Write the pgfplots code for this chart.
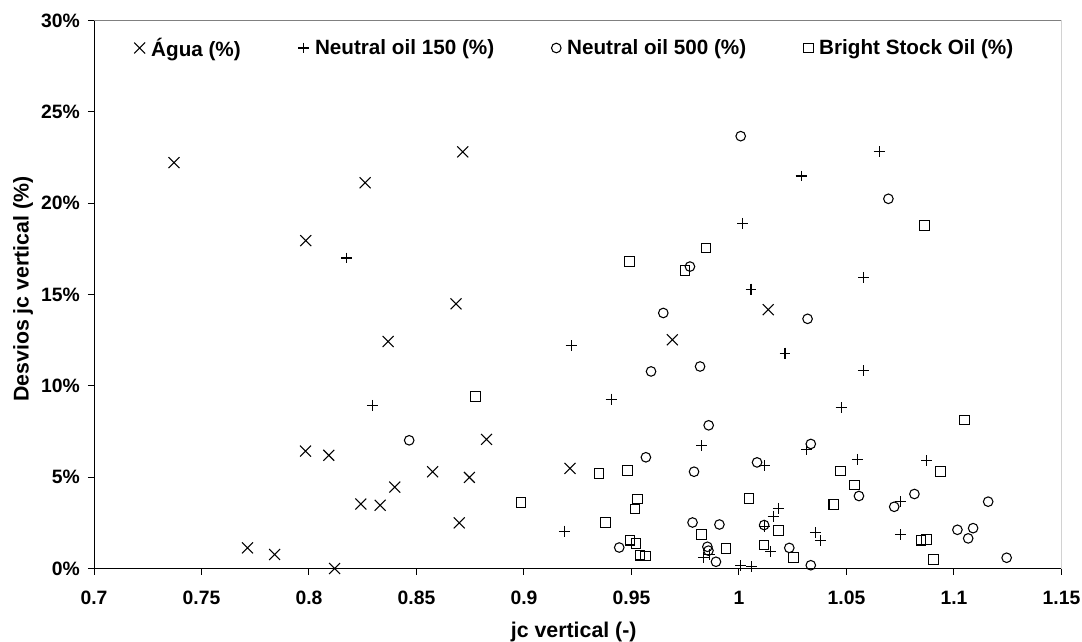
\documentclass[border=0pt]{standalone}
\usepackage{fontspec}
\setmainfont{Liberation Sans}
\usepackage{pgfplots}
\pgfplotsset{compat=1.18}
\begin{document}
\begin{tikzpicture}
\path[use as bounding box] (0,0) rectangle (811.5pt,481.5pt);
\begin{axis}[
  at={(70.5pt,55.1pt)}, anchor=south west,
  scale only axis, width=725.6pt, height=411pt,
  xmin=0.7, xmax=1.15, ymin=0, ymax=30,
  axis x line*=bottom, axis y line*=left,
  axis line style={black, line width=0.75pt, -},
  xtick={0.7,0.75,0.8,0.85,0.9,0.95,1,1.05,1.1,1.15},
  xticklabels={0.7,0.75,0.8,0.85,0.9,0.95,1,1.05,1.1,1.15},
  ytick={0,5,10,15,20,25,30},
  yticklabels={0\%,5\%,10\%,15\%,20\%,25\%,30\%},
  tick align=outside, major tick length=4.5pt,
  tick style={black, line width=0.75pt},
  ticklabel style={font=\fontsize{14.5}{17}\selectfont\bfseries},
  xticklabel style={anchor=base, inner sep=0pt, yshift=-22.6pt},
  yticklabel style={anchor=east, inner sep=0pt, xshift=-6pt},
  xlabel={jc vertical (-)},
  ylabel={Desvios jc vertical (\%)},
  xlabel style={at={(axis description cs:0.5,0)}, anchor=base, yshift=-51.5pt, xshift=-3pt, font=\fontsize{16}{19}\selectfont\bfseries},
  ylabel style={at={(axis description cs:0,0.5)}, anchor=center, yshift=53.25pt, xshift=4pt, font=\fontsize{16}{19}\selectfont\bfseries},
  legend columns=4,
  legend style={draw=none, fill=none, inner sep=0pt, at={(axis description cs:0,1)}, anchor=west, xshift=30pt, yshift=-20.6pt,
    font=\fontsize{15.5}{18}\selectfont\bfseries,
    /tikz/every even column/.append style={column sep=41pt},
    /tikz/every odd column/.append style={column sep=2.5pt}},
]
\draw[color=gray, line width=0.75pt] (rel axis cs:0,1) -- (rel axis cs:1,1) -- (rel axis cs:1,0);
% Agua
\addplot[only marks, mark=x, mark size=5.8pt, line width=0.8pt, black,
  legend image code/.code={\draw[black, line width=0.8pt, only marks, mark=x, mark size=5.8pt] plot coordinates {(0pt,0pt)};}] coordinates {
(0.7372,22.22) (0.8261,21.12) (0.8715,22.81) (0.7985,17.95) (0.8684,14.49)
(0.8368,12.43) (0.9690,12.52) (1.0136,14.17) (0.8826,7.07) (0.7984,6.43)
(0.8092,6.20) (0.8575,5.30) (0.9214,5.48) (0.8746,4.99) (0.8399,4.46)
(0.8241,3.53) (0.8331,3.46) (0.8699,2.50) (0.7714,1.13) (0.7840,0.77) (0.8119,0.0)
};
\addlegendentry{Água (\%)}
% Neutral oil 150
\addplot[only marks, mark=+, mark size=4.1pt, line width=0.8pt, black,
  legend image code/.code={\draw[black, line width=0.8pt, only marks, mark=+, mark size=4.1pt] plot coordinates {(0pt,0pt)};}] coordinates {
(0.8175,17.00) (0.8295,8.94) (1.0017,18.90) (1.0056,15.30) (1.0652,22.81)
(1.0289,21.49) (1.0581,15.94) (0.9219,12.21) (0.9405,9.27) (0.9826,6.73)
(0.9188,2.05) (0.9834,0.59) (0.9865,0.75) (1.0008,0.15) (1.0059,0.09)
(1.0214,11.79) (1.0578,10.84) (1.0475,8.81) (1.0316,6.53) (1.0120,5.63)
(1.0550,5.98) (1.0873,5.89) (1.0753,3.66) (1.0183,3.29) (1.0159,2.87)
(1.0117,2.32) (1.0355,1.96) (1.0378,1.52) (1.0750,1.86) (1.0148,0.91)
};
\addlegendentry{Neutral oil 150 (\%)}
% Neutral oil 500
\addplot[only marks, mark=o, mark size=3.6pt, line width=0.8pt, black,
  legend image code/.code={\draw[black, line width=0.8pt, only marks, mark=o, mark size=3.6pt] plot coordinates {(0pt,0pt)};}] coordinates {
(0.8466,7.02) (1.0008,23.67) (0.9772,16.53) (1.0695,20.24) (0.9648,13.99)
(0.9819,11.06) (0.9591,10.79) (0.9859,7.84) (0.9567,6.09) (0.9791,5.30)
(0.9784,2.52) (0.9909,2.41) (0.9443,1.15) (0.9853,1.19) (0.9858,0.98)
(0.9893,0.37) (1.0319,13.67) (1.0334,6.82) (1.0084,5.81) (1.0558,3.97)
(1.0816,4.08) (1.1159,3.66) (1.0722,3.38) (1.0117,2.38) (1.1016,2.12)
(1.1089,2.21) (1.1066,1.65) (1.0234,1.13) (1.1245,0.59) (1.0334,0.18)
};
\addlegendentry{Neutral oil 500 (\%)}
% Bright Stock Oil
\addplot[only marks, mark=square, mark size=3.6pt, line width=0.8pt, black,
  legend image code/.code={\draw[black, line width=0.8pt, only marks, mark=square, mark size=3.6pt] plot coordinates {(0pt,0pt)};}] coordinates {
(0.9847,17.55) (0.9490,16.82) (0.9749,16.31) (1.0863,18.78) (0.8775,9.41)
(0.9349,5.21) (0.9481,5.36) (0.8986,3.62) (0.9529,3.80) (0.9516,3.25)
(1.0047,3.84) (0.9378,2.52) (0.9826,1.86) (0.9493,1.55) (0.9521,1.37)
(0.9940,1.10) (0.9540,0.73) (0.9566,0.69) (1.1050,8.14) (1.0472,5.34)
(1.0938,5.30) (1.0538,4.57) (1.0441,3.51) (1.0183,2.07) (1.0847,1.55)
(1.0871,1.59) (1.0117,1.28) (1.0253,0.60) (1.0905,0.49)
};
\addlegendentry{Bright Stock Oil (\%)}
\end{axis}
\end{tikzpicture}
\end{document}
